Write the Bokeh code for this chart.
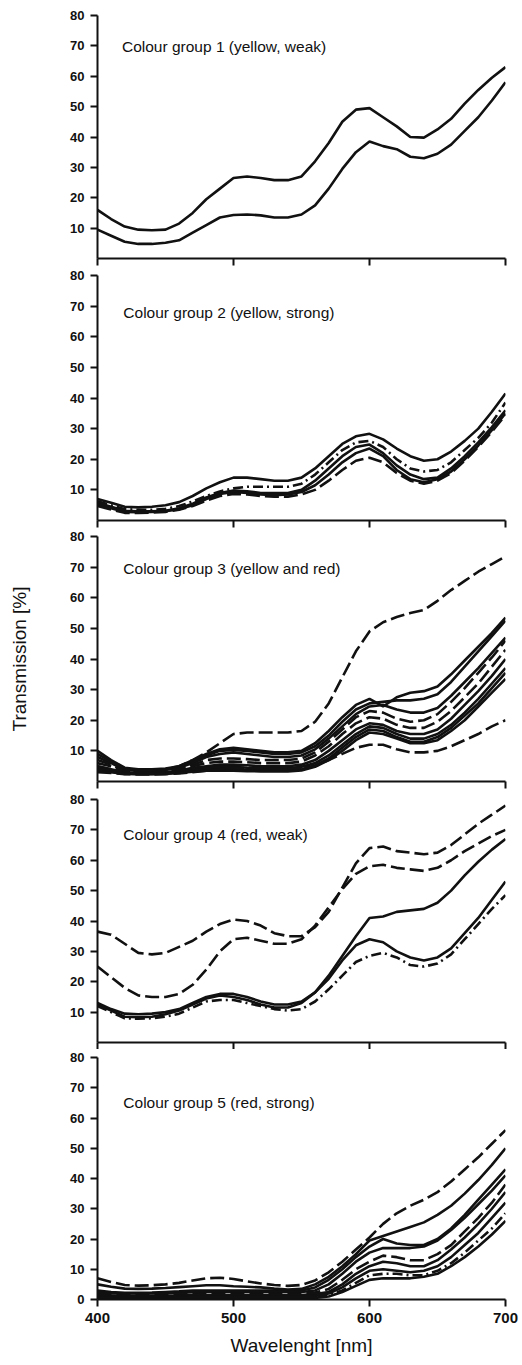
from bokeh.plotting import figure
from bokeh.layouts import column
from bokeh.models import Range1d, FixedTicker, Label
from bokeh.embed import file_html
from bokeh.resources import INLINE

# ---------------- data ----------------
wavelength = list(range(400, 701, 10))

x_ticks = [400, 500, 600, 700]
y_ticks_upper = [10, 20, 30, 40, 50, 60, 70, 80]
y_ticks_bottom = [0, 10, 20, 30, 40, 50, 60, 70, 80]

titles = [
    "Colour group 1 (yellow, weak)",
    "Colour group 2 (yellow, strong)",
    "Colour group 3 (yellow and red)",
    "Colour group 4 (red, weak)",
    "Colour group 5 (red, strong)",
]

# Colour group 1
g1_a = [16, 13, 10.5, 9.5, 9.3, 9.5, 11.5, 15, 19.5, 23, 26.5, 27, 26.5, 25.8, 25.8, 27, 32, 38, 45, 49, 49.5, 46.5, 43.5, 40, 39.8, 42.5, 46, 51, 55.5, 59.5, 63]
g1_b = [9.5, 7.5, 5.5, 4.8, 4.8, 5.2, 6, 8.5, 11, 13.5, 14.3, 14.5, 14.2, 13.5, 13.5, 14.5, 17.5, 23, 29.5, 35, 38.5, 37, 36, 33.5, 33, 34.5, 37.5, 42, 46.5, 52, 58]

# Colour group 2
g2_a = [7, 5.8, 4.5, 4.3, 4.5, 5, 6, 8, 10.5, 12.5, 14, 14, 13.5, 13, 13, 14, 17, 21, 25, 27.5, 28.3, 26.5, 23.5, 21, 19.5, 20, 22.5, 26, 30, 35.5, 41.5]
g2_b = [6.3, 5, 3.7, 3.5, 3.5, 3.8, 4.7, 6.2, 8, 9.5, 10.5, 11, 11, 11, 11, 12, 15, 19, 23, 25.5, 26, 24, 20, 17, 16, 16.5, 19, 23, 27, 32, 38.5]
g2_c = [5.8, 4.5, 3.2, 3, 3, 3.2, 4, 5.5, 7.5, 9, 9.8, 9.5, 9, 9, 9, 10, 13, 17, 21, 24, 24.8, 22, 18, 15, 13.5, 14, 17, 21, 25.5, 30.5, 36]
g2_d = [5.2, 4, 2.8, 2.7, 2.8, 3, 3.7, 5, 7, 8.7, 9.3, 9, 8.5, 8.3, 8.5, 9.3, 11.5, 15, 19, 22, 23.5, 21, 16.5, 13.5, 12.5, 13.5, 16, 20, 24.5, 29.5, 35]
g2_e = [4.7, 3.6, 2.5, 2.5, 2.6, 2.8, 3.5, 4.7, 6.5, 8, 8.7, 8.5, 8, 7.8, 7.8, 8.5, 10, 13, 16.5, 19.5, 20.5, 19, 15.5, 13, 12, 13, 15.5, 19.5, 24, 29, 34.5]

# Colour group 3
g3_a = [5, 4, 3.5, 3.5, 3.5, 4, 5, 7, 9.5, 12.5, 15.5, 16, 16, 16, 16, 16.5, 19.5, 25.5, 34, 42.5, 49, 52, 53.7, 55, 56, 59, 62.5, 65.5, 68.5, 71, 73.5]
g3_b = [10, 7, 4.5, 4, 4, 4.2, 5, 7, 9, 10.5, 11, 10.5, 10, 9.5, 9.5, 10, 12.5, 16.5, 21, 25, 27, 24.5, 27.5, 29, 29.5, 31, 35, 39.5, 44, 48.5, 53.5]
g3_c = [9, 6.5, 4, 3.7, 3.7, 4, 4.8, 6.5, 8.5, 10, 10.3, 10, 9.5, 9, 9, 9.5, 11.5, 15, 19.5, 23.5, 25.5, 26, 26.5, 26.5, 27, 28.5, 32.5, 37.5, 42.5, 47.5, 52.5]
g3_d = [8, 6, 3.8, 3.5, 3.5, 3.8, 4.5, 6, 8, 9, 9.5, 9, 8.5, 8, 8, 8.5, 10.5, 14, 18, 22, 24.5, 25, 23.5, 22.5, 22.5, 24, 28, 32.5, 37, 42, 47]
g3_e = [7, 5.5, 3.5, 3.3, 3.3, 3.5, 4.2, 5.5, 7, 7.5, 7.5, 7.3, 7, 7, 7, 7.5, 9.5, 13, 17, 21, 23, 22.5, 20.5, 19.5, 20, 22, 26, 30.5, 35.5, 40.5, 46]
g3_f = [6, 5, 3.3, 3, 3, 3.3, 4, 5, 6, 6.5, 6.5, 6.3, 6, 6, 6, 6.5, 8.5, 11.5, 15.5, 19, 21, 20.5, 18.5, 17.5, 17.5, 19.5, 23, 27.5, 32, 37.5, 43]
g3_g = [5, 4, 3, 2.8, 2.8, 3, 3.5, 4.5, 5, 5.5, 5.5, 5.3, 5, 5, 5, 5.5, 7, 10, 13.5, 17, 19, 18.5, 16.5, 15.5, 15.5, 17, 20.5, 25, 29.5, 34.5, 40]
g3_h = [4.5, 3.5, 2.8, 2.6, 2.6, 2.8, 3.2, 4, 4.5, 4.8, 4.8, 4.5, 4.3, 4.3, 4.3, 4.8, 6, 8.5, 12, 15.5, 18, 17.5, 15.5, 14, 14, 15.5, 18.5, 22.5, 27, 32, 37]
g3_i = [4, 3.2, 2.6, 2.5, 2.5, 2.6, 3, 3.5, 4, 4, 4, 3.8, 3.7, 3.7, 3.7, 4, 5.3, 7.5, 11, 14.5, 17, 16.5, 14.5, 13, 13, 14.5, 17.5, 21.5, 25.5, 30.5, 35.5]
g3_j = [3.5, 3, 2.5, 2.4, 2.4, 2.5, 2.8, 3.2, 3.5, 3.5, 3.5, 3.4, 3.3, 3.3, 3.3, 3.6, 4.8, 7, 10, 13.5, 16, 15.5, 14, 12.5, 12.5, 13.5, 16.5, 20, 24.5, 29, 33.5]
g3_k = [3, 2.8, 2.4, 2.3, 2.3, 2.4, 2.6, 3, 3.5, 4, 4.5, 4.5, 4.3, 4.2, 4.2, 4.5, 5, 7, 9, 11, 12, 12, 10.5, 9.5, 9.5, 10, 11.5, 13.5, 15.5, 18, 20]

# Colour group 4
g4_a = [36.5, 35.5, 32.5, 29.5, 29, 29.5, 31.5, 33.5, 36.5, 39, 40.5, 40, 38.5, 36, 35, 35, 38, 43, 51, 59, 64, 64.5, 63, 62.5, 62, 62.5, 65, 68.5, 72, 75, 78]
g4_b = [25, 21.5, 18, 15.5, 15, 15, 16, 19, 24, 30, 34, 34.5, 33.5, 32.5, 32.5, 34, 38.5, 44.5, 50.5, 55.5, 58, 58.5, 57.5, 57, 56.5, 57.5, 60, 63, 65.5, 68, 70]
g4_c = [13, 11, 9.5, 9.3, 9.5, 10, 11, 13, 15, 16, 16, 15, 13.5, 12.5, 12.5, 13.5, 16.5, 22, 28.5, 35, 41, 41.5, 43, 43.5, 44, 46, 50, 55, 59.5, 63.5, 67]
g4_d = [12.5, 10.5, 8.5, 8.3, 8.5, 9.3, 10.5, 12.5, 14.5, 15.5, 15, 14, 12.5, 11.5, 11.5, 13, 16.5, 21, 27, 32, 34, 33, 30, 28, 27, 28, 31, 36, 41, 47, 53]
g4_e = [12, 10, 8, 7.8, 8, 8.5, 9.5, 11.5, 13.5, 14, 14, 13, 12, 11, 10.5, 11, 13.5, 17.5, 22, 26.5, 28.5, 29.5, 28, 25.5, 25, 26, 29, 34, 39, 44, 48.5]

# Colour group 5
g5_a = [7, 5.8, 4.8, 4.6, 4.7, 5, 5.5, 6.3, 7, 7.2, 6.8, 6, 5.3, 4.8, 4.5, 4.8, 6.3, 9, 12.5, 16.5, 20.5, 25, 28.5, 31, 33, 35.5, 39, 43, 47, 51.5, 56]
g5_b = [5, 4.2, 3.6, 3.5, 3.6, 3.8, 4.1, 4.4, 4.7, 4.7, 4.4, 4.2, 4, 3.6, 3.3, 3.5, 5, 7.5, 11, 15, 19.5, 21, 22.5, 24, 25.5, 28, 31, 35, 39.5, 44.5, 50]
g5_c = [3, 2.5, 2.2, 2.2, 2.3, 2.5, 2.7, 3, 3, 3, 3, 3, 3, 3, 3, 3, 4, 6.5, 10, 14, 17.5, 20, 18.5, 18, 18, 20, 23.5, 28, 33, 38, 43]
g5_d = [2.5, 2, 2, 2, 2, 2, 2.2, 2.4, 2.5, 2.5, 2.5, 2.5, 2.5, 2.5, 2.5, 2.5, 3, 5, 8.5, 12.5, 15.5, 17, 17, 17, 17.5, 19.5, 23, 27, 31.5, 36, 41]
g5_e = [2, 1.7, 1.5, 1.5, 1.5, 1.6, 1.8, 2, 2, 2, 2, 2, 2, 2, 2, 2, 2.3, 3.5, 6.5, 10, 12.5, 14.5, 14, 13, 13, 15, 18, 22.5, 27, 32, 38]
g5_f = [1.5, 1.3, 1.2, 1.2, 1.2, 1.2, 1.3, 1.5, 1.5, 1.5, 1.5, 1.5, 1.5, 1.5, 1.5, 1.5, 1.8, 2.5, 5, 8.5, 11, 12.5, 12, 11, 11, 13, 16.5, 20.5, 25, 30, 35.5]
g5_g = [1, 0.9, 0.8, 0.8, 0.8, 0.8, 0.9, 1, 1, 1, 1, 1, 1, 1, 1, 1, 1.2, 2, 4, 7, 9.5, 10, 9.5, 9, 9.5, 11, 14, 18, 22, 27, 32]
g5_h = [0.7, 0.6, 0.5, 0.5, 0.5, 0.5, 0.6, 0.7, 0.7, 0.7, 0.7, 0.7, 0.7, 0.7, 0.7, 0.7, 0.8, 1.5, 3, 5.5, 8, 8.5, 8.5, 8, 8, 9.5, 12, 15.5, 19.5, 23.5, 28.5]
g5_i = [0.4, 0.4, 0.3, 0.3, 0.3, 0.3, 0.4, 0.4, 0.4, 0.4, 0.4, 0.4, 0.4, 0.4, 0.4, 0.4, 0.5, 1, 2.5, 4.5, 6.5, 7, 7, 7, 7.5, 8.5, 11, 14, 17.5, 21.5, 26]

# ---------------- styling ----------------
SOLID = "solid"
DASH = "14 5"
DASHDOT = "10 4 2 4"
INK = "#111111"
FONT = "Liberation Sans"

panels = [
    dict(series=[(g1_a, SOLID), (g1_b, SOLID)],
         frame_h=243, top=15, bottom=10, left=95, title_x=418, title_y=69.8),
    dict(series=[(g2_a, SOLID), (g2_b, DASHDOT), (g2_c, SOLID), (g2_d, SOLID), (g2_e, DASH)],
         frame_h=245, top=7, bottom=10, left=95, title_x=419, title_y=68),
    dict(series=[(g3_a, DASH), (g3_b, SOLID), (g3_c, SOLID), (g3_d, SOLID), (g3_e, DASH),
                 (g3_f, DASH), (g3_g, SOLID), (g3_h, SOLID), (g3_i, SOLID), (g3_j, SOLID), (g3_k, DASH)],
         frame_h=245, top=6, bottom=11, left=95, title_x=419, title_y=69.5),
    dict(series=[(g4_a, DASH), (g4_b, DASH), (g4_c, SOLID), (g4_d, SOLID), (g4_e, DASHDOT)],
         frame_h=243, top=7, bottom=4, left=97, title_x=419, title_y=68.5),
    dict(series=[(g5_a, DASH), (g5_b, SOLID), (g5_c, SOLID), (g5_d, SOLID), (g5_e, DASH),
                 (g5_f, SOLID), (g5_g, SOLID), (g5_h, DASHDOT), (g5_i, SOLID)],
         frame_h=242, top=8, bottom=62, left=97, title_x=419, title_y=65),
]

FRAME_W = 408
TOTAL_W = 522

figs = []
for i, (cfg, title) in enumerate(zip(panels, titles)):
    last = i == len(panels) - 1
    p = figure(frame_width=FRAME_W, frame_height=cfg["frame_h"],
               x_range=Range1d(400, 700), y_range=Range1d(0, 80),
               output_backend="svg", toolbar_location=None,
               min_border_left=cfg["left"], min_border_right=TOTAL_W - FRAME_W - cfg["left"],
               min_border_top=cfg["top"], min_border_bottom=cfg["bottom"],
               background_fill_color="white", border_fill_color="white")
    p.outline_line_color = None
    p.xgrid.visible = False
    p.ygrid.visible = False

    for vals, dash in cfg["series"]:
        p.line(wavelength, vals, line_width=2.6, line_color=INK, line_dash=dash)

    p.add_layout(Label(x=cfg["title_x"], y=cfg["title_y"], text=title,
                       text_font=FONT, text_font_size="15.5px", text_color=INK,
                       text_baseline="middle", text_align="left"))

    xa = p.xaxis[0]
    xa.ticker = FixedTicker(ticks=x_ticks)
    xa.minor_tick_line_color = None
    xa.major_tick_in = 0
    xa.major_tick_out = 7
    xa.axis_line_width = 2
    xa.major_tick_line_width = 2
    xa.axis_line_color = INK
    xa.major_tick_line_color = INK
    if last:
        xa.major_label_text_font = FONT
        xa.major_label_text_font_size = "15px"
        xa.major_label_text_font_style = "bold"
        xa.major_label_text_color = INK
        xa.major_label_standoff = 6
        xa.axis_label = "Wavelenght [nm]"
        xa.axis_label_text_font = FONT
        xa.axis_label_text_font_size = "19px"
        xa.axis_label_text_font_style = "normal"
        xa.axis_label_text_color = INK
        xa.axis_label_standoff = 9
    else:
        xa.major_label_text_font_size = "0px"
        xa.major_label_text_color = None
        xa.major_label_standoff = 0

    ya = p.yaxis[0]
    ya.ticker = FixedTicker(ticks=y_ticks_bottom if last else y_ticks_upper)
    ya.minor_tick_line_color = None
    ya.major_tick_in = 0
    ya.major_tick_out = 7
    ya.axis_line_width = 2
    ya.major_tick_line_width = 2
    ya.axis_line_color = INK
    ya.major_tick_line_color = INK
    ya.major_label_text_font = FONT
    ya.major_label_text_font_size = "13px"
    ya.major_label_text_font_style = "bold"
    ya.major_label_text_color = INK
    ya.major_label_standoff = 6
    if i == 2:
        ya.axis_label = "Transmission [%]"
        ya.axis_label_text_font = FONT
        ya.axis_label_text_font_size = "19px"
        ya.axis_label_text_font_style = "normal"
        ya.axis_label_text_color = INK
        ya.axis_label_standoff = 37
    figs.append(p)

layout = column(*figs)
open("out.html", "w").write(file_html(layout, INLINE))
